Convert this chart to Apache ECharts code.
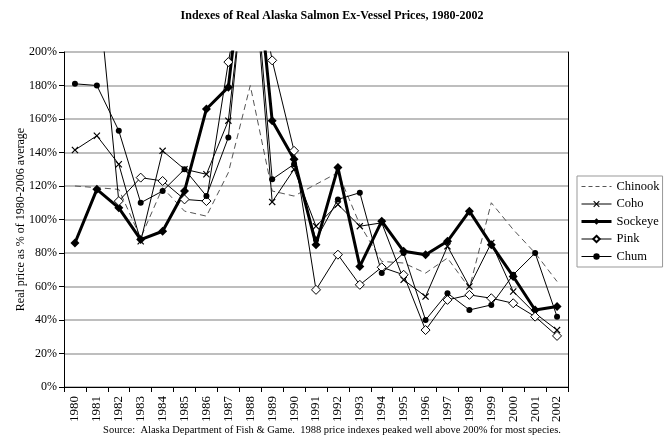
<!DOCTYPE html>
<html>
<head>
<meta charset="utf-8">
<script src="https://cdn.jsdelivr.net/npm/echarts@6/dist/echarts.min.js"></script>
<style>
html,body{margin:0;padding:0;background:#fff;}
#chart{width:664px;height:437px;}
</style>
</head>
<body>
<div id="chart"></div>
<script>
var years = ['1980','1981','1982','1983','1984','1985','1986','1987','1988','1989','1990','1991','1992','1993','1994','1995','1996','1997','1998','1999','2000','2001','2002'];
var chinook = [120, 119, 118, 89, 119, 105, 102, 128, 180, 117, 114, 121, 128, 97, 75, 74, 68, 77, 59, 110, 94, 80, 63];
var coho    = [141.5, 150, 133, 87, 141, 130, 127, 159, 275, 110.5, 130, 96, 109, 96, 98, 64, 54, 84, 60, 86, 57, 44, 34];
var sockeye = [86, 118, 107, 88, 93, 117, 166, 179, 290, 159, 136, 85, 131, 72, 99, 81, 79, 87, 105, 85, 66, 46, 48];
var pink    = [null, 245, 111, 125, 123, 112, 111, 194, 265, 195, 141, 58, 79, 61, 71.5, 67, 34, 52, 55, 53, 50, 42, 30.5];
var chum    = [181, 180, 153, 110, 117, 130, 114, 149, 280, 124, 133, 88, 112, 116, 68, 80, 40, 56, 46, 49, 67, 80, 42];
var yTicks = [0, 20, 40, 60, 80, 100, 120, 140, 160, 180, 200];

var serif = '"Liberation Serif","Times New Roman",serif';
var xPath = 'path://M0,1.2L1.2,0L5,3.8L8.8,0L10,1.2L6.2,5L10,8.8L8.8,10L5,6.2L1.2,10L0,8.8L3.8,5Z';

var chart = echarts.init(document.getElementById('chart'), null, {renderer: 'canvas'});
chart.setOption({
  animation: false,
  backgroundColor: '#fff',
  title: [{
    text: 'Indexes of Real Alaska Salmon Ex-Vessel Prices, 1980-2002',
    left: 'center', top: 5,
    textStyle: {fontFamily: serif, fontSize: 12, fontWeight: 'bold', color: '#000'}
  }, {
    text: 'Source:  Alaska Department of Fish & Game.  1988 price indexes peaked well above 200% for most species.',
    left: 'center', top: 420,
    textStyle: {fontFamily: serif, fontSize: 10.5, fontWeight: 'normal', color: '#000'}
  }],
  legend: {
    orient: 'vertical', left: 577, top: 176,
    padding: [4, 3, 4, 3],
    borderColor: '#999', borderWidth: 1,
    itemWidth: 30, itemHeight: 8, itemGap: 4.5,
    textStyle: {fontFamily: serif, fontSize: 12.5, color: '#000'},
    data: [
      {name: 'Chinook', itemStyle: {opacity: 0}, lineStyle: {width: 1, color: '#555', type: [4, 3]}},
      {name: 'Coho', lineStyle: {width: 1}},
      {name: 'Sockeye', lineStyle: {width: 3}},
      {name: 'Pink', lineStyle: {width: 1}},
      {name: 'Chum', lineStyle: {width: 1}}
    ]
  },
  grid: {left: 64, right: 96, top: 52, bottom: 50, containLabel: false},
  xAxis: {
    type: 'category', data: years, boundaryGap: true,
    axisLine: {show: true, lineStyle: {color: '#000', width: 1}},
    axisTick: {show: true, length: 5, lineStyle: {color: '#000'}},
    axisLabel: {interval: 0, rotate: 90, margin: 9, fontFamily: serif, fontSize: 13, color: '#000'},
    splitLine: {show: false}
  },
  yAxis: [{
    type: 'value', min: 0, max: 200, interval: 20,
    name: 'Real price as % of 1980-2006 average',
    nameLocation: 'middle', nameGap: 37, nameMoveOverlap: false,
    nameTextStyle: {fontFamily: serif, fontSize: 12, color: '#000'},
    axisLine: {show: true, lineStyle: {color: '#000', width: 1}},
    axisTick: {show: true, length: 5, lineStyle: {color: '#000'}},
    axisLabel: {formatter: function (v) { return yTicks.indexOf(v) >= 0 ? v + '%' : ''; }, fontFamily: serif, fontSize: 12, color: '#000', margin: 7},
    splitLine: {show: true, lineStyle: {color: '#a8a8a8', width: 1.5}}
  }, {
    type: 'value', min: 0, max: 200, interval: 20, position: 'right',
    axisLine: {show: true, lineStyle: {color: '#000', width: 1}},
    axisTick: {show: false}, axisLabel: {show: false}, splitLine: {show: false}
  }],
  series: [{
    name: 'Chinook', type: 'line', data: chinook, clip: true,
    symbol: 'none', showSymbol: false,
    lineStyle: {color: '#555', width: 1, type: [6, 4]},
    itemStyle: {color: '#555'}
  }, {
    name: 'Coho', type: 'line', data: coho, clip: true,
    symbol: xPath, symbolSize: 7,
    lineStyle: {color: '#000', width: 1},
    itemStyle: {color: '#000'}
  }, {
    name: 'Sockeye', type: 'line', data: sockeye, clip: true,
    symbol: 'diamond', symbolSize: 9,
    lineStyle: {color: '#000', width: 3},
    itemStyle: {color: '#000'}
  }, {
    name: 'Pink', type: 'line', data: pink, clip: true,
    symbol: 'diamond', symbolSize: 9,
    lineStyle: {color: '#000', width: 1},
    itemStyle: {color: '#fff', borderColor: '#000', borderWidth: 1}
  }, {
    name: 'Chum', type: 'line', data: chum, clip: true,
    symbol: 'circle', symbolSize: 6,
    lineStyle: {color: '#000', width: 1},
    itemStyle: {color: '#000'}
  }]
});
</script>
</body>
</html>
